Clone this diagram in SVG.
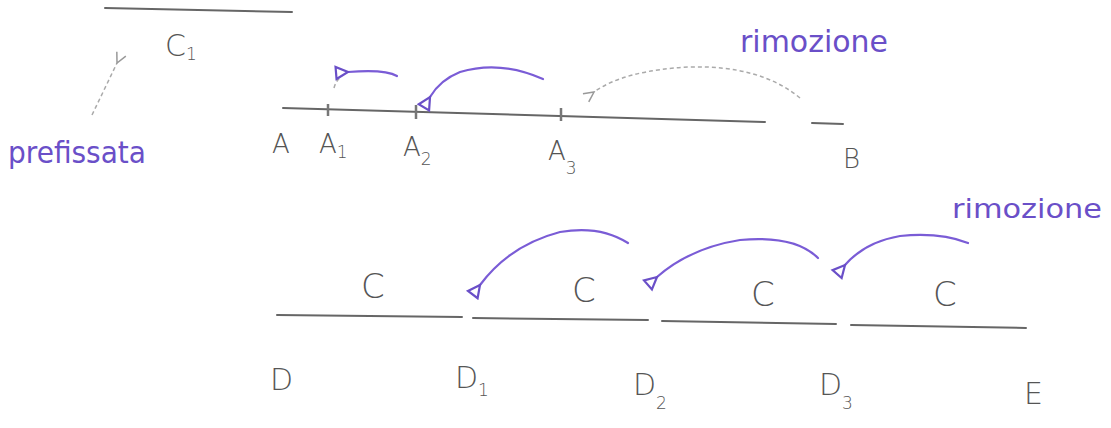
<svg xmlns="http://www.w3.org/2000/svg" width="1111" height="428" viewBox="0 0 1111 428">
<defs>
<style>
.lbl{font-family:"DejaVu Sans","Liberation Sans",sans-serif;font-weight:200;fill:#555;}
.big{font-size:26px;}
.sub{font-size:17px;}
.pur{font-family:"DejaVu Sans","Liberation Sans",sans-serif;fill:#6a4fc8;}
.seg{stroke:#666;stroke-width:2;fill:none;stroke-linecap:round;}
.tick{stroke:#777;stroke-width:2.5;}
.parc{stroke:#7a5cd6;stroke-width:2.2;fill:none;stroke-linecap:round;}
.garc{stroke:#aaa;stroke-width:1.5;fill:none;stroke-dasharray:4 3;}
</style>
<marker id="pa" viewBox="0 0 16 16" refX="2" refY="8" markerWidth="16" markerHeight="16" markerUnits="userSpaceOnUse" orient="auto-start-reverse">
<path d="M14,2 L2,8 L14,14 Z" fill="none" stroke="#6a4fc8" stroke-width="2.2"/>
</marker>
<marker id="ga" viewBox="0 0 14 14" refX="2" refY="7" markerWidth="14" markerHeight="14" markerUnits="userSpaceOnUse" orient="auto-start-reverse">
<path d="M12,2 L2,7 L12,12" fill="none" stroke="#999" stroke-width="1.5"/>
</marker>
</defs>
<rect width="1111" height="428" fill="#fff"/>

<g id="top-line">
<line class="seg" x1="105" y1="8" x2="292" y2="12"/>
<text class="lbl" x="165" y="56" font-size="30">C<tspan class="sub" dy="4">1</tspan></text>
</g>

<g id="prefissata">
<text class="pur" x="8" y="163" font-size="30" textLength="138" lengthAdjust="spacingAndGlyphs">prefissata</text>
</g>

<g id="segment-AB">
<path class="seg" d="M283,108 L765,122"/>
<path class="seg" d="M812,123 L843,124"/>
<line class="tick" x1="328" y1="104" x2="328" y2="116"/>
<line class="tick" x1="416" y1="105" x2="416" y2="119"/>
<line class="tick" x1="561" y1="108" x2="561" y2="121"/>
</g>
<g id="label-A"><text class="lbl big" x="272" y="153">A</text></g>
<g id="label-A1"><text class="lbl big" x="319" y="153">A<tspan class="sub" dy="5">1</tspan></text></g>
<g id="label-A2"><text class="lbl big" x="403" y="156">A<tspan class="sub" dy="9">2</tspan></text></g>
<g id="label-A3"><text class="lbl big" x="548" y="160">A<tspan class="sub" dy="14">3</tspan></text></g>
<g id="label-B"><text class="lbl big" x="843" y="168">B</text></g>

<g id="rimozione-1"><text class="pur" x="740" y="52" font-size="30" textLength="148" lengthAdjust="spacingAndGlyphs">rimozione</text></g>
<g id="rimozione-2"><text class="pur" x="952" y="218" font-size="26" textLength="150" lengthAdjust="spacingAndGlyphs">rimozione</text></g>

<g id="segment-DE">
<path class="seg" d="M277,315 L462,317"/>
<path class="seg" d="M473,318 L648,320"/>
<path class="seg" d="M662,321 L836,324"/>
<path class="seg" d="M851,325 L1026,328"/>
</g>
<g id="C-1"><text class="lbl" x="361" y="298" font-size="34">C</text></g>
<g id="C-2"><text class="lbl" x="572" y="302" font-size="34">C</text></g>
<g id="C-3"><text class="lbl" x="751" y="306" font-size="34">C</text></g>
<g id="C-4"><text class="lbl" x="933" y="306" font-size="34">C</text></g>
<g id="label-D"><text class="lbl" x="270" y="390" font-size="30">D</text></g>
<g id="label-D1"><text class="lbl" x="455" y="388" font-size="30">D<tspan class="sub" dy="8">1</tspan></text></g>
<g id="label-D2"><text class="lbl" x="633" y="395" font-size="30">D<tspan class="sub" dy="14">2</tspan></text></g>
<g id="label-D3"><text class="lbl" x="819" y="395" font-size="30">D<tspan class="sub" dy="14">3</tspan></text></g>
<g id="label-E"><text class="lbl" x="1024" y="404" font-size="30">E</text></g>

<g id="connectors">
<path class="garc" d="M92,115 L117,63" marker-end="url(#ga)"/>
<path class="garc" d="M334,88 Q336,80 342,76"/>
<path class="parc" d="M397,76 Q385,69 348,72" marker-end="url(#pa)"/>
<path class="parc" d="M543,79 Q500,60 460,72 Q440,80 430,97" marker-end="url(#pa)"/>
<path class="garc" d="M800,98 Q760,65 690,67 Q625,70 594,92" marker-end="url(#ga)"/>
<path class="parc" d="M628,243 Q600,225 560,232 Q510,245 480,285" marker-end="url(#pa)"/>
<path class="parc" d="M818,258 Q795,235 740,240 Q690,248 657,277" marker-end="url(#pa)"/>
<path class="parc" d="M968,243 Q940,232 900,236 Q865,242 845,265" marker-end="url(#pa)"/>
</g>
</svg>
